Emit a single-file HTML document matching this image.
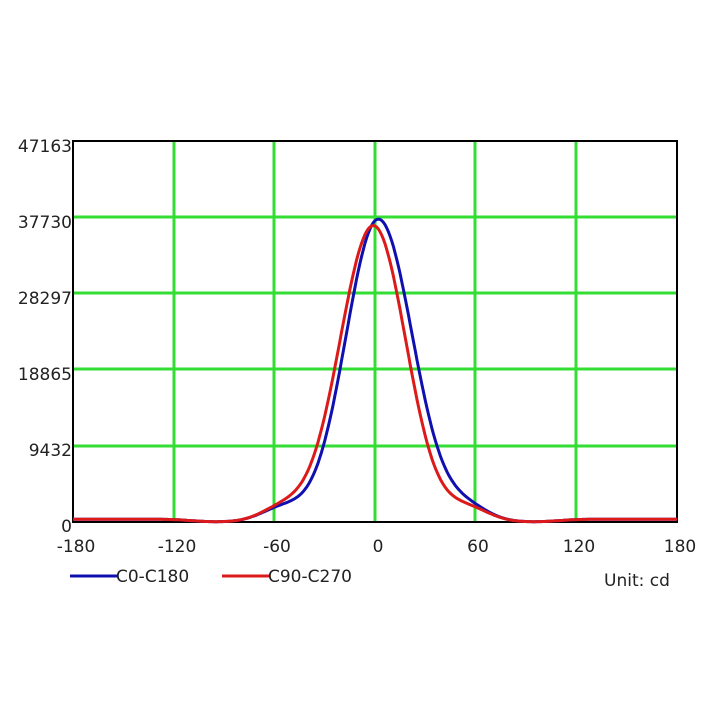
<!DOCTYPE html>
<html><head><meta charset="utf-8"><style>
html,body{margin:0;padding:0;background:#fff;}
svg text{font-family:"DejaVu Sans","Liberation Sans",sans-serif;font-size:17px;fill:#222;}
</style></head><body>
<svg id="s" width="720" height="720" xmlns="http://www.w3.org/2000/svg">
<rect width="720" height="720" fill="#fff"/>
<g stroke="#33dd33" stroke-width="3">
<line x1="174" y1="141" x2="174" y2="522"/>
<line x1="274" y1="141" x2="274" y2="522"/>
<line x1="375" y1="141" x2="375" y2="522"/>
<line x1="475" y1="141" x2="475" y2="522"/>
<line x1="576" y1="141" x2="576" y2="522"/>
<line x1="73" y1="217" x2="677" y2="217"/>
<line x1="73" y1="293" x2="677" y2="293"/>
<line x1="73" y1="369" x2="677" y2="369"/>
<line x1="73" y1="446" x2="677" y2="446"/>
</g>
<rect x="73" y="141" width="604" height="381" fill="none" stroke="#000" stroke-width="2"/>
<path id="b" fill="none" stroke="#1010b0" stroke-width="3"/>
<path id="r" fill="none" stroke="#dd1a1a" stroke-width="3"/>
<g text-anchor="end">
<text x="72" y="152">47163</text>
<text x="72" y="228">37730</text>
<text x="72" y="304">28297</text>
<text x="72" y="380">18865</text>
<text x="72" y="456">9432</text>
<text x="72" y="532">0</text>
</g>
<g text-anchor="middle">
<text x="76" y="552">-180</text>
<text x="177" y="552">-120</text>
<text x="277" y="552">-60</text>
<text x="378" y="552">0</text>
<text x="478" y="552">60</text>
<text x="579" y="552">120</text>
<text x="680" y="552">180</text>
</g>
<line x1="70" y1="576" x2="118" y2="576" stroke="#1010b0" stroke-width="3"/>
<text x="116" y="582">C0-C180</text>
<line x1="222" y1="576" x2="270" y2="576" stroke="#dd1a1a" stroke-width="3"/>
<text x="268" y="582">C90-C270</text>
<text x="604" y="586">Unit: cd</text>
</svg>
<script>
function f(t,A,mu,sl,sr){var s=t<mu?sl:sr;var g=A*Math.exp(-(t-mu)*(t-mu)/(2*s*s));
var a=Math.abs(t);var sh=1700*Math.exp(-(a-55)*(a-55)/(2*13*13));
var tail=350/(1+Math.exp(-(a-110)/6));
return g+sh+tail;}
function p(A,mu,sl,sr){var d="";for(var t=-180;t<=180;t+=1){var v=f(t,A,mu,sl,sr);
var x=73+(t+180)*604/360,y=522-v*381/47163;d+=(t==-180?"M":"L")+x.toFixed(1)+","+y.toFixed(1);}return d;}
document.getElementById("b").setAttribute("d",p(37500,2,19.5,20.5));
document.getElementById("r").setAttribute("d",p(36700,-1,20,19.5));
</script>
</body></html>
